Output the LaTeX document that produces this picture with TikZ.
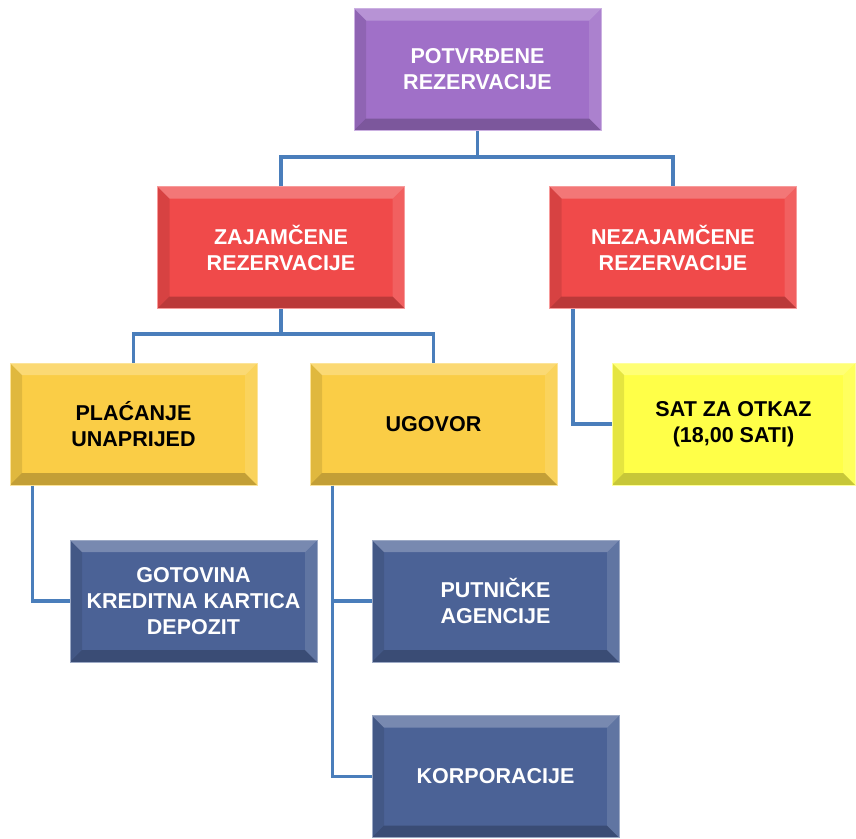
\documentclass[tikz,border=0pt]{standalone}
\usepackage{fontspec}
\setmainfont{Liberation Sans}
\definecolor{purplebox}{HTML}{A070C8}
\definecolor{redbox}{HTML}{F04A4A}
\definecolor{goldbox}{HTML}{FACD46}
\definecolor{yellowbox}{HTML}{FFFF48}
\definecolor{bluebox}{HTML}{4B6296}
\definecolor{linkblue}{HTML}{4A7EBB}
\tikzset{
  bevel/.style={path picture={
    \fill[white,opacity=.25] (path picture bounding box.north west) -- (path picture bounding box.north east)
      -- ([shift={(-12pt,-12pt)}]path picture bounding box.north east) -- ([shift={(12pt,-12pt)}]path picture bounding box.north west) -- cycle;
    \fill[white,opacity=.12] (path picture bounding box.north east) -- (path picture bounding box.south east)
      -- ([shift={(-12pt,12pt)}]path picture bounding box.south east) -- ([shift={(-12pt,-12pt)}]path picture bounding box.north east) -- cycle;
    \fill[black,opacity=.22] (path picture bounding box.south west) -- (path picture bounding box.south east)
      -- ([shift={(-12pt,12pt)}]path picture bounding box.south east) -- ([shift={(12pt,12pt)}]path picture bounding box.south west) -- cycle;
    \fill[black,opacity=.10] (path picture bounding box.north west) -- (path picture bounding box.south west)
      -- ([shift={(12pt,12pt)}]path picture bounding box.south west) -- ([shift={(12pt,-12pt)}]path picture bounding box.north west) -- cycle;
  }},
  box/.style={rectangle, minimum width=247pt, minimum height=122pt, inner sep=0pt, align=center,
    font=\bfseries\fontsize{21.5}{26}\selectfont, fill=#1, draw=#1!55!white, line width=1pt, bevel},
  whitebox/.style={box=#1, text=white},
  darkbox/.style={box=#1, text=black},
  link/.style={draw=linkblue, line width=3.5pt},
}
\begin{document}
\begin{tikzpicture}[x=1pt,y=-1pt]
  \useasboundingbox (0,0) rectangle (856,838);
  \node[whitebox=purplebox] (potvrdene) at (477.5,69.5) {POTVRĐENE\\REZERVACIJE};
  \node[whitebox=redbox] (zajamcene) at (281,247.5) {ZAJAMČENE\\REZERVACIJE};
  \node[whitebox=redbox] (nezajamcene) at (673,247.5) {NEZAJAMČENE\\REZERVACIJE};
  \node[darkbox=goldbox] (placanje) at (133.5,424) {PLAĆANJE\\UNAPRIJED};
  \node[darkbox=goldbox] (ugovor) at (433.5,424) {UGOVOR};
  \node[darkbox=yellowbox, minimum width=243pt] (sat) at (733.5,424) {SAT ZA OTKAZ\\(18,00 SATI)};
  \node[whitebox=bluebox] (gotovina) at (193.5,601) {GOTOVINA\\KREDITNA KARTICA\\DEPOZIT};
  \node[whitebox=bluebox] (putnicke) at (495.5,601) {PUTNIČKE\\AGENCIJE};
  \node[whitebox=bluebox] (korporacije) at (495.5,776.5) {KORPORACIJE};
  \begin{scope}[link]
    \draw (potvrdene.south) -- ++(0,26) -| (zajamcene.north);
    \draw (potvrdene.south) -- ++(0,26) -| (nezajamcene.north);
    \draw (zajamcene.south) -- ++(0,25) -| (placanje.north);
    \draw (zajamcene.south) -- ++(0,25) -| (ugovor.north);
    \draw ([xshift=24pt]nezajamcene.south west) |- (sat.west);
    \draw ([xshift=23pt]placanje.south west) |- (gotovina.west);
    \draw ([xshift=23pt]ugovor.south west) |- (putnicke.west);
    \draw ([xshift=23pt]ugovor.south west) |- (korporacije.west);
  \end{scope}
\end{tikzpicture}
\end{document}
